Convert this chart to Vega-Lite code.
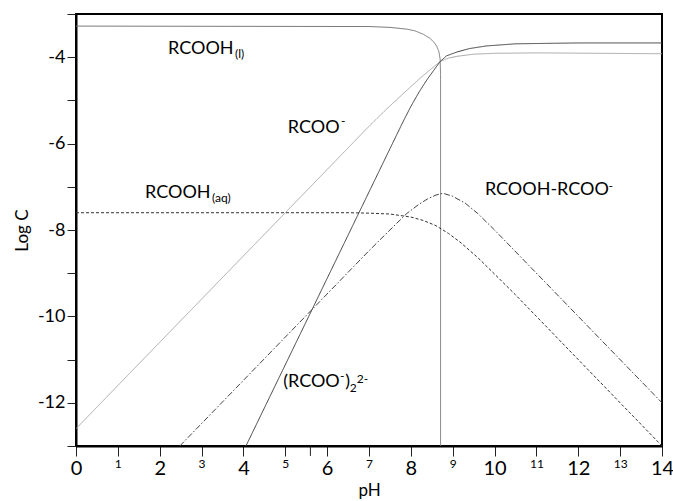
{
  "$schema": "https://vega.github.io/schema/vega-lite/v6.json",
  "width": 586,
  "height": 432,
  "autosize": {"type": "none"},
  "padding": {"left": 76, "top": 14, "right": 11, "bottom": 55},
  "background": "white",
  "config": {
    "font": "Lato",
    "view": {"stroke": "black", "strokeWidth": 2},
    "axis": {"grid": false, "labelOverlap": false, "labelFlush": false, "domainColor": "black", "domainWidth": 2, "tickColor": "#222", "labelColor": "black", "titleColor": "black", "titleFontWeight": "normal", "labelFont": "Lato", "titleFont": "Lato"}
  },
  "datasets": {
    "curves": [
      {"series": "RCOOH(l)", "pH": 0, "logC": -3.28},
      {"series": "RCOOH(l)", "pH": 7.0, "logC": -3.29},
      {"series": "RCOOH(l)", "pH": 7.5, "logC": -3.31},
      {"series": "RCOOH(l)", "pH": 7.9, "logC": -3.35},
      {"series": "RCOOH(l)", "pH": 8.1, "logC": -3.39},
      {"series": "RCOOH(l)", "pH": 8.3, "logC": -3.47},
      {"series": "RCOOH(l)", "pH": 8.45, "logC": -3.56},
      {"series": "RCOOH(l)", "pH": 8.55, "logC": -3.65},
      {"series": "RCOOH(l)", "pH": 8.62, "logC": -3.75},
      {"series": "RCOOH(l)", "pH": 8.67, "logC": -3.87},
      {"series": "RCOOH(l)", "pH": 8.7, "logC": -4.05},
      {"series": "RCOOH(l)", "pH": 8.71, "logC": -4.4},
      {"series": "RCOOH(l)", "pH": 8.71, "logC": -13},
      {"series": "RCOO-", "pH": 0, "logC": -12.6},
      {"series": "RCOO-", "pH": 7.0, "logC": -5.6},
      {"series": "RCOO-", "pH": 7.4, "logC": -5.22},
      {"series": "RCOO-", "pH": 7.7, "logC": -4.95},
      {"series": "RCOO-", "pH": 8.0, "logC": -4.68},
      {"series": "RCOO-", "pH": 8.3, "logC": -4.42},
      {"series": "RCOO-", "pH": 8.5, "logC": -4.26},
      {"series": "RCOO-", "pH": 8.7, "logC": -4.1},
      {"series": "RCOO-", "pH": 8.9, "logC": -4.02},
      {"series": "RCOO-", "pH": 9.1, "logC": -3.98},
      {"series": "RCOO-", "pH": 9.5, "logC": -3.93},
      {"series": "RCOO-", "pH": 10, "logC": -3.91},
      {"series": "RCOO-", "pH": 11, "logC": -3.9},
      {"series": "RCOO-", "pH": 14, "logC": -3.92},
      {"series": "(RCOO-)2", "pH": 4.06, "logC": -13},
      {"series": "(RCOO-)2", "pH": 7.5, "logC": -6.12},
      {"series": "(RCOO-)2", "pH": 7.8, "logC": -5.52},
      {"series": "(RCOO-)2", "pH": 8.0, "logC": -5.14},
      {"series": "(RCOO-)2", "pH": 8.2, "logC": -4.8},
      {"series": "(RCOO-)2", "pH": 8.4, "logC": -4.5},
      {"series": "(RCOO-)2", "pH": 8.55, "logC": -4.3},
      {"series": "(RCOO-)2", "pH": 8.7, "logC": -4.1},
      {"series": "(RCOO-)2", "pH": 8.85, "logC": -3.97},
      {"series": "(RCOO-)2", "pH": 9.1, "logC": -3.88},
      {"series": "(RCOO-)2", "pH": 9.4, "logC": -3.8},
      {"series": "(RCOO-)2", "pH": 9.8, "logC": -3.74},
      {"series": "(RCOO-)2", "pH": 10.5, "logC": -3.69},
      {"series": "(RCOO-)2", "pH": 12, "logC": -3.67},
      {"series": "(RCOO-)2", "pH": 14, "logC": -3.67},
      {"series": "RCOOH(aq)", "pH": 0, "logC": -7.6},
      {"series": "RCOOH(aq)", "pH": 6.5, "logC": -7.6},
      {"series": "RCOOH(aq)", "pH": 7.0, "logC": -7.61},
      {"series": "RCOOH(aq)", "pH": 7.5, "logC": -7.63},
      {"series": "RCOOH(aq)", "pH": 8.0, "logC": -7.7},
      {"series": "RCOOH(aq)", "pH": 8.3, "logC": -7.78},
      {"series": "RCOOH(aq)", "pH": 8.6, "logC": -7.9},
      {"series": "RCOOH(aq)", "pH": 8.9, "logC": -8.08},
      {"series": "RCOOH(aq)", "pH": 9.2, "logC": -8.3},
      {"series": "RCOOH(aq)", "pH": 9.6, "logC": -8.64},
      {"series": "RCOOH(aq)", "pH": 10, "logC": -9.02},
      {"series": "RCOOH(aq)", "pH": 10.5, "logC": -9.5},
      {"series": "RCOOH(aq)", "pH": 11, "logC": -10.0},
      {"series": "RCOOH(aq)", "pH": 14, "logC": -13},
      {"series": "RCOOH-RCOO-", "pH": 2.48, "logC": -13},
      {"series": "RCOOH-RCOO-", "pH": 7.0, "logC": -8.48},
      {"series": "RCOOH-RCOO-", "pH": 7.5, "logC": -8.0},
      {"series": "RCOOH-RCOO-", "pH": 7.9, "logC": -7.62},
      {"series": "RCOOH-RCOO-", "pH": 8.2, "logC": -7.4},
      {"series": "RCOOH-RCOO-", "pH": 8.4, "logC": -7.28},
      {"series": "RCOOH-RCOO-", "pH": 8.6, "logC": -7.19},
      {"series": "RCOOH-RCOO-", "pH": 8.77, "logC": -7.15},
      {"series": "RCOOH-RCOO-", "pH": 9.0, "logC": -7.22},
      {"series": "RCOOH-RCOO-", "pH": 9.3, "logC": -7.38},
      {"series": "RCOOH-RCOO-", "pH": 9.6, "logC": -7.62},
      {"series": "RCOOH-RCOO-", "pH": 10, "logC": -8.0},
      {"series": "RCOOH-RCOO-", "pH": 14, "logC": -12.0}
    ],
    "labels": [
      {"part": "main", "text": "RCOOH", "pH": 2.2, "logC": -3.93},
      {"part": "sub", "text": "(l)", "pH": 3.8, "logC": -4.02},
      {"part": "main", "text": "RCOO", "pH": 5.06, "logC": -5.76},
      {"part": "sup", "text": "-", "pH": 6.33, "logC": -5.58},
      {"part": "main", "text": "RCOOH", "pH": 1.65, "logC": -7.26},
      {"part": "sub", "text": "(aq)", "pH": 3.25, "logC": -7.35},
      {"part": "main", "text": "RCOOH-RCOO", "pH": 9.77, "logC": -7.19},
      {"part": "sup", "text": "-", "pH": 12.72, "logC": -7.07},
      {"part": "main", "text": "(RCOO", "pH": 4.95, "logC": -11.63},
      {"part": "sup", "text": "-", "pH": 6.31, "logC": -11.47},
      {"part": "main", "text": ")", "pH": 6.43, "logC": -11.63},
      {"part": "sub", "text": "2", "pH": 6.54, "logC": -11.75},
      {"part": "sup", "text": "2-", "pH": 6.71, "logC": -11.54}
    ],
    "extraTick": [
      {"pH": 5.6, "from": -13, "to": -13.23}
    ]
  },
  "layer": [
    {
      "data": {"name": "curves"},
      "mark": {"type": "line", "strokeWidth": 1, "clip": true},
      "encoding": {
        "x": {
          "field": "pH", "type": "quantitative",
          "scale": {"domain": [0, 14], "nice": false},
          "axis": {
            "title": "pH", "titleFontSize": 17, "titlePadding": 4,
            "values": [0, 1, 2, 3, 4, 5, 6, 7, 8, 9, 10, 11, 12, 13, 14],
            "tickSize": 10, "labelPadding": 2, "labelFlush": false, "labelOverlap": false, "labelBound": false,
            "labelExpr": "'' + datum.value",
            "labelFontSize": {"condition": {"test": "datum.value % 2 === 0", "value": 20}, "value": 12}
          }
        },
        "y": {
          "field": "logC", "type": "quantitative",
          "scale": {"domain": [-13, -3], "nice": false},
          "axis": {
            "title": "Log C", "titleFontSize": 17, "titlePadding": 6,
            "values": [-13, -12, -11, -10, -9, -8, -7, -6, -5, -4, -3],
            "tickSize": 9, "labelPadding": 2, "labelFontSize": 18, "labelOverlap": false,
            "labelExpr": "datum.value % 2 === 0 ? '' + datum.value : ''"
          }
        },
        "detail": {"field": "series"},
        "order": {"value": null},
        "color": {
          "field": "series", "type": "nominal", "legend": null,
          "scale": {
            "domain": ["RCOOH(l)", "RCOO-", "(RCOO-)2", "RCOOH(aq)", "RCOOH-RCOO-"],
            "range": ["#7a7a7a", "#a8a8a8", "#3c3c3c", "#333333", "#444444"]
          }
        },
        "strokeDash": {
          "field": "series", "type": "nominal", "legend": null,
          "scale": {
            "domain": ["RCOOH(l)", "RCOO-", "(RCOO-)2", "RCOOH(aq)", "RCOOH-RCOO-"],
            "range": [[1, 0], [1, 0], [1, 0], [3, 2], [6, 2, 1.5, 2]]
          }
        }
      }
    },
    {
      "data": {"name": "extraTick"},
      "mark": {"type": "rule", "clip": false, "color": "#222", "strokeWidth": 1},
      "encoding": {
        "x": {"field": "pH", "type": "quantitative"},
        "y": {"field": "from", "type": "quantitative"},
        "y2": {"field": "to"}
      }
    },
    {
      "data": {"name": "labels"},
      "transform": [{"filter": "datum.part === 'main'"}],
      "mark": {"type": "text", "align": "left", "baseline": "alphabetic", "fontSize": 18, "color": "black"},
      "encoding": {
        "x": {"field": "pH", "type": "quantitative"},
        "y": {"field": "logC", "type": "quantitative"},
        "text": {"field": "text"}
      }
    },
    {
      "data": {"name": "labels"},
      "transform": [{"filter": "datum.part !== 'main'"}],
      "mark": {"type": "text", "align": "left", "baseline": "alphabetic", "fontSize": 12, "color": "black"},
      "encoding": {
        "x": {"field": "pH", "type": "quantitative"},
        "y": {"field": "logC", "type": "quantitative"},
        "text": {"field": "text"}
      }
    }
  ]
}
